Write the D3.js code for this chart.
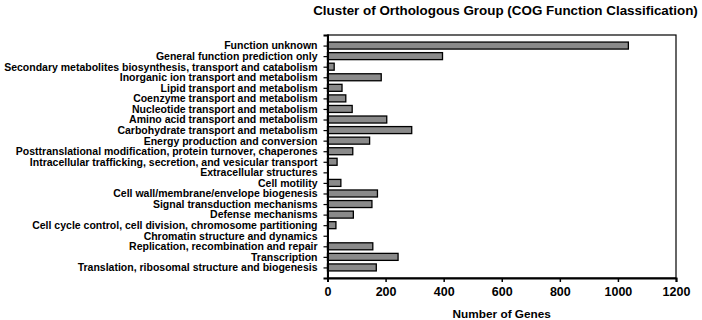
<!DOCTYPE html>
<html lang="en">
<head>
    <meta charset="UTF-8">
    <script src="https://cdn.jsdelivr.net/npm/d3@7"></script>
    <title>COG Function Classification</title>
    <style>
        html, body {
            margin: 0px;
            padding: 0px;
            background-color: #ffffff;
            font-family: "Liberation Sans", Arial, sans-serif;
        }
        text {
            font-weight: bold;
            fill: #000;
        }
    </style>
</head>
<body>
    <div id="chart"></div>

    <script>
        let categories = [
            'Function unknown',
            'General function prediction only',
            'Secondary metabolites biosynthesis, transport and catabolism',
            'Inorganic ion transport and metabolism',
            'Lipid transport and metabolism',
            'Coenzyme transport and metabolism',
            'Nucleotide transport and metabolism',
            'Amino acid transport and metabolism',
            'Carbohydrate transport and metabolism',
            'Energy production and conversion',
            'Posttranslational modification, protein turnover, chaperones',
            'Intracellular trafficking, secretion, and vesicular transport',
            'Extracellular structures',
            'Cell motility',
            'Cell wall/membrane/envelope biogenesis',
            'Signal transduction mechanisms',
            'Defense mechanisms',
            'Cell cycle control, cell division, chromosome partitioning',
            'Chromatin structure and dynamics',
            'Replication, recombination and repair',
            'Transcription',
            'Translation, ribosomal structure and biogenesis'
        ];
        let genes = [1036, 396, 23, 185, 50, 63, 85, 204, 290, 145, 87, 33, 0, 46, 172, 153, 89, 29, 0, 156, 243, 168];
        let xTicks = [0, 200, 400, 600, 800, 1000, 1200];

        let width = 702;
        let height = 320;
        let margin = {top: 35, right: 26, bottom: 42, left: 327.5};

        let svg = d3.select('#chart').append('svg')
            .attr('width', width)
            .attr('height', height);

        let x = d3.scaleLinear()
            .domain([0, 1200])
            .range([margin.left, width - margin.right]);

        let y = d3.scalePoint()
            .domain(categories)
            .range([margin.top, height - margin.bottom])
            .padding(1);

        let barH = 7;

        // frame
        svg.append('rect')
            .attr('x', margin.left)
            .attr('y', margin.top)
            .attr('width', x(1200) - margin.left)
            .attr('height', height - margin.bottom - margin.top)
            .attr('fill', 'none')
            .attr('stroke', '#000')
            .attr('stroke-width', 1.2);

        svg.selectAll('rect.bar')
            .data(genes)
            .join('rect')
            .attr('class', 'bar')
            .attr('x', x(0))
            .attr('y', (d, i) => y(categories[i]) - barH / 2)
            .attr('width', d => x(d) - x(0))
            .attr('height', barH)
            .attr('fill', '#8a8a8a')
            .attr('stroke', '#000')
            .attr('stroke-width', 1.3)
            .attr('display', d => d > 0 ? null : 'none');

        let xAxis = svg.append('g')
            .attr('transform', `translate(0,${height - margin.bottom})`)
            .call(d3.axisBottom(x).tickValues(xTicks).tickSize(4).tickPadding(5).tickFormat(d3.format('d')));
        xAxis.select('.domain').attr('stroke-width', 2);
        xAxis.selectAll('.tick line').attr('stroke-width', 1.5);
        xAxis.selectAll('text')
            .attr('font-size', 12.5)
            .attr('font-family', '"Liberation Sans", Arial, sans-serif');

        let yAxis = svg.append('g')
            .attr('transform', `translate(${margin.left},0)`)
            .call(d3.axisLeft(y).tickSize(4).tickPadding(6));
        yAxis.select('.domain').attr('stroke-width', 2);
        yAxis.selectAll('.tick line').attr('stroke-width', 1.2);
        yAxis.selectAll('text')
            .attr('font-size', 10.5)
            .attr('font-family', '"Liberation Sans", Arial, sans-serif');

        svg.append('text')
            .attr('x', (x(0) + x(1200)) / 2)
            .attr('y', 318)
            .attr('text-anchor', 'middle')
            .attr('font-size', 11.8)
            .text('Number of Genes');

        svg.append('text')
            .attr('x', 505.5)
            .attr('y', 15)
            .attr('text-anchor', 'middle')
            .attr('font-size', 13.4)
            .text('Cluster of Orthologous Group (COG Function Classification)');
    </script>
</body>
</html>
